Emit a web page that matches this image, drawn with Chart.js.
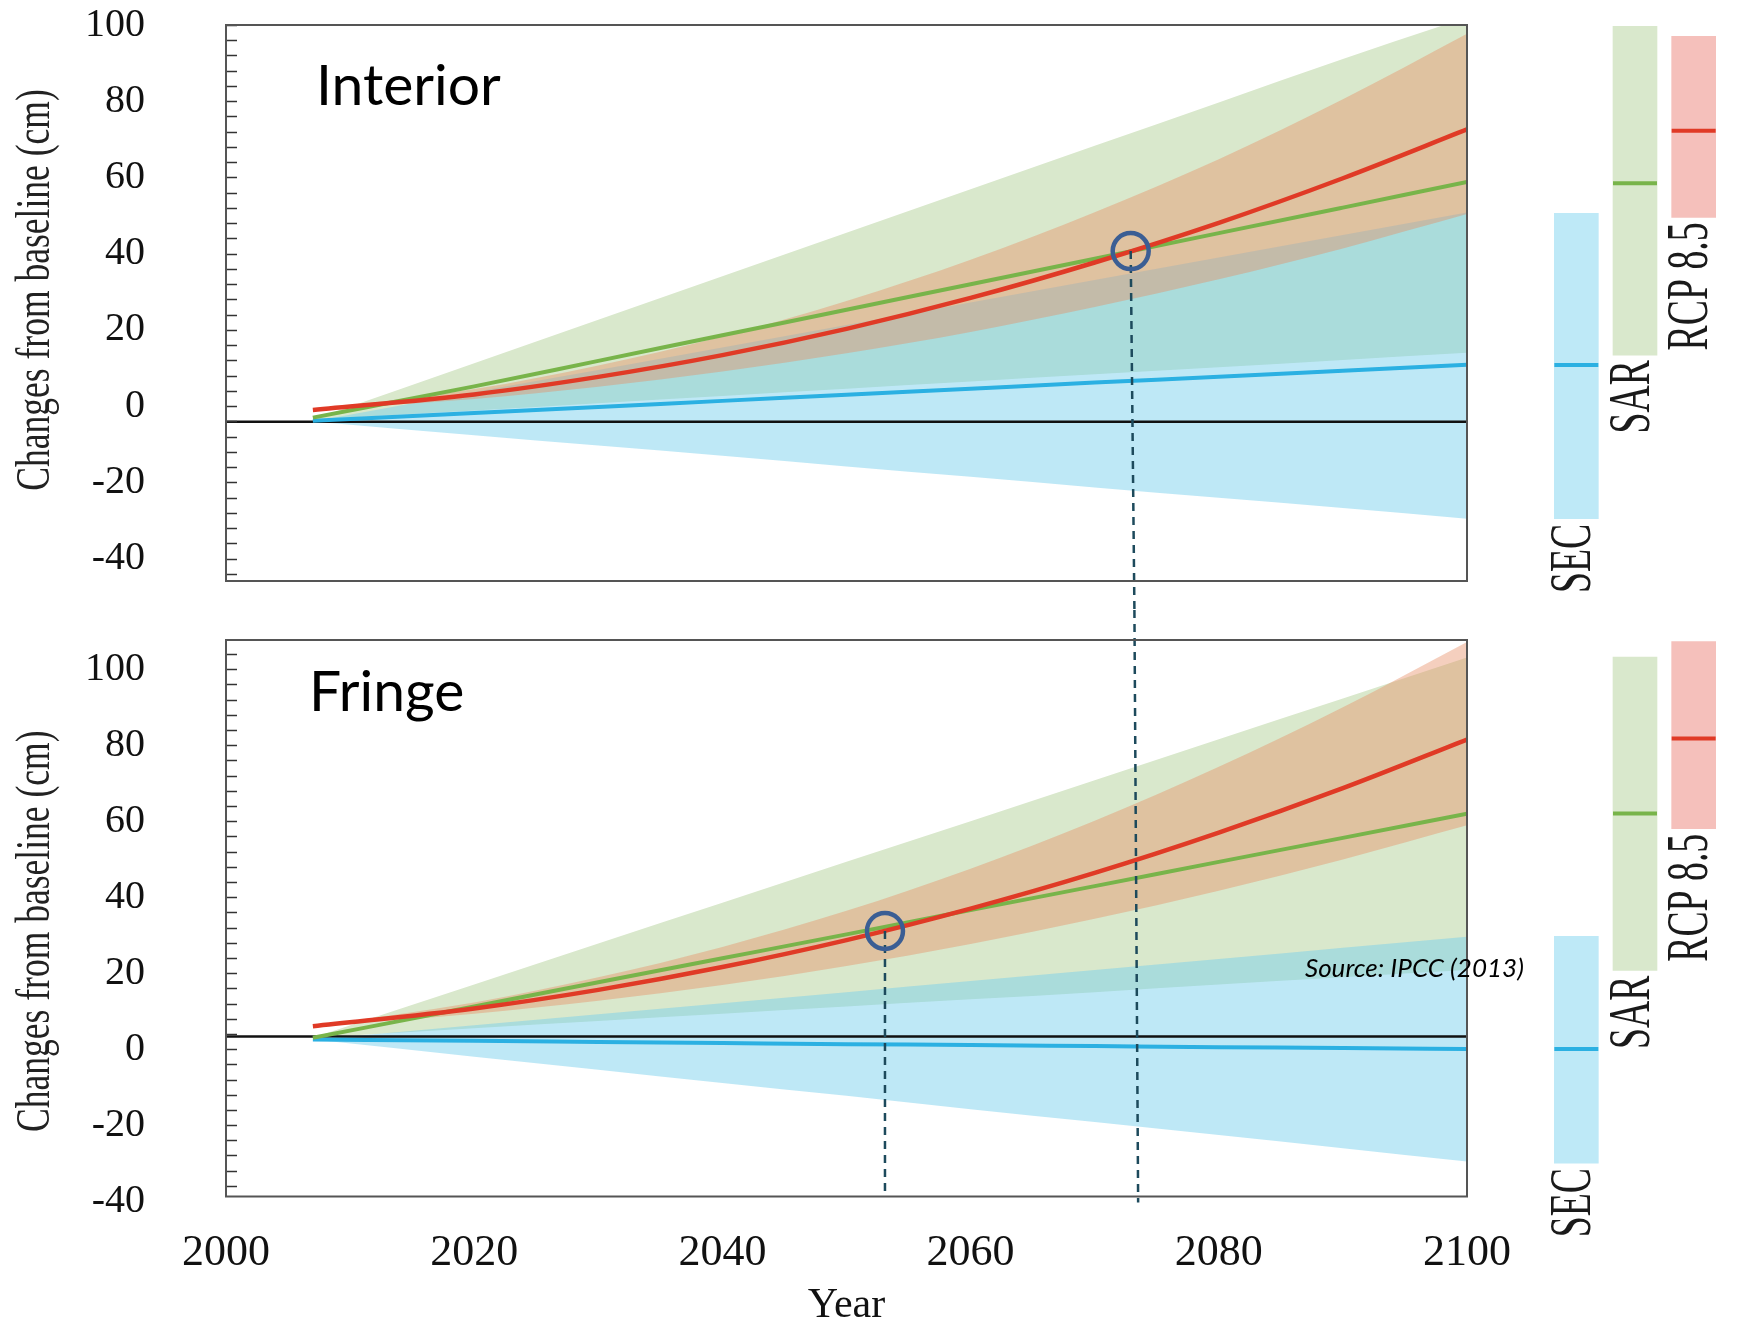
<!DOCTYPE html>
<html><head><meta charset="utf-8">
<script src="https://cdn.jsdelivr.net/npm/chart.js@4.4.1/dist/chart.umd.min.js"></script>
<style>
html,body{margin:0;padding:0;background:#fff;overflow:hidden;}
#wrap{position:relative;width:1749px;height:1326px;background:#fff;}
canvas{position:absolute;}
</style></head><body>
<div id="wrap">
<canvas id="topChart" style="left:0;top:0" width="1749" height="610"></canvas>
<canvas id="botChart" style="left:0;top:610px" width="1749" height="716"></canvas>
<canvas id="topBars" style="left:1521px;top:0" width="228" height="610"></canvas>
<canvas id="botBars" style="left:1521px;top:610px" width="228" height="716"></canvas>
</div>
<script>
// ---------------- DATA ----------------
const years = [2007, 2020, 2030, 2040, 2050, 2060, 2070, 2080, 2090, 2100];
const xTicks = [2000, 2020, 2040, 2060, 2080, 2100];

// Interior panel
const intRedMid    = [-1.0, 3.1, 7.7, 13.4, 20.3, 28.4, 37.7, 48.1, 59.8, 72.6];
const intRedHigh   = [-1.0, 4.5, 10.7, 18.3, 27.6, 38.4, 50.9, 64.8, 80.5, 97.7];
const intRedLow    = [-1.0, 1.9, 5.1, 9.1, 13.9, 19.5, 26.0, 33.3, 41.4, 50.4];
const intGreenMid  = [-3.0, 5.2, 11.9, 18.6, 25.3, 32.0, 38.7, 45.4, 52.1, 58.8];
const intGreenHigh = [-3.5, 11.3, 22.7, 34.1, 45.5, 56.9, 68.3, 79.7, 91.1, 102.0];
const intGreenLow  = [-3.5, -1.1, 0.8, 2.7, 4.6, 6.5, 8.4, 10.2, 12.1, 14.0];
const intBlueMid   = [-3.8, -1.8, -0.2, 1.4, 3.0, 4.6, 6.2, 7.7, 9.3, 10.9];
const intBlueHigh  = [-4.0, 3.7, 9.5, 15.4, 21.3, 27.2, 33.1, 39.0, 44.9, 50.8];
const intBlueLow   = [-4.0, -7.6, -10.3, -13.0, -15.8, -18.5, -21.3, -24.0, -26.7, -29.5];
const intBaseline  = -4.1;
const intYRange    = [-45.85, 100];
const intExtraLabels = [];
const intMarker    = [{x: 2072.9, y: 40.7}];
const intGuide     = [{x: 2072.9, y: 40.7}, {x: 2073.2, y: -53.4}];

// Fringe panel
const frRedMid    = [6.0, 10.7, 15.6, 21.6, 28.7, 37.0, 46.4, 57.0, 68.7, 81.5];
const frRedHigh   = [6.0, 12.3, 18.9, 26.9, 36.4, 47.5, 60.1, 74.3, 90.0, 107.2];
const frRedLow    = [6.0, 9.3, 12.7, 16.9, 21.9, 27.7, 34.3, 41.7, 49.9, 58.9];
const frGreenMid  = [3.0, 11.2, 17.6, 23.9, 30.2, 36.6, 42.9, 49.3, 55.6, 62.0];
const frGreenHigh = [3.0, 17.0, 27.8, 38.5, 49.3, 60.0, 70.8, 81.6, 92.3, 103.1];
const frGreenLow  = [3.0, 5.5, 7.4, 9.3, 11.2, 13.1, 15.0, 17.0, 18.9, 20.8];
const frBlueMid   = [2.5, 2.2, 1.9, 1.6, 1.3, 1.1, 0.8, 0.5, 0.3, 0.0];
const frBlueHigh  = [2.5, 6.3, 9.2, 12.1, 15.0, 17.9, 20.8, 23.7, 26.7, 29.6];
const frBlueLow   = [2.5, -2.0, -5.4, -8.9, -12.3, -15.8, -19.2, -22.6, -26.1, -29.6];
const frBaseline  = 3.3;
const frYRange    = [-38.8, 107.7];
const frExtraLabels = [-40];
const frMarker    = [{x: 2053.1, y: 31.1}];
const frGuideA    = [{x: 2073.2, y: 115.6}, {x: 2073.5, y: -40.4}];
const frGuideB    = [{x: 2053.1, y: 31.1}, {x: 2053.1, y: -38.8}];

// Side range bars (value at 2100)
const sideCats   = ['SEC', 'SAR', 'RCP 8.5'];
const intSideLow  = [-29.5, 13.5, 49.7];
const intSideHigh = [50.8, 100.5, 97.3];
const intSideMid  = [10.9, 58.7, 72.5];
const frSideLow   = [-30.0, 20.7, 58.0];
const frSideHigh  = [29.7, 103.2, 107.3];
const frSideMid   = [0.0, 62.0, 81.8];

// ---------------- STYLE ----------------
const C = {
  greenBand: '#d9e8cc', blueBand: 'rgba(117,206,236,0.47)', redBand: 'rgba(230,140,100,0.42)',
  red: '#e03a26', green: '#78b44a', blue: '#2bb0e2', base: '#111111',
  circle: '#3b5e94', guide: '#1d4a5c',
  sideFill: ['#bee9f7', '#d9e8cc', '#f5c0bb'], sideMid: ['#2bb0e2', '#78b44a', '#e03a26']
};
const serif = '"Liberation Serif", "DejaVu Serif", serif';

const pts = arr => years.map((yr, i) => ({x: yr, y: arr[i]}));
const flat = v => [{x: 2000, y: v}, {x: 2100, y: v}];

function bandLow(arr, order) {
  return {type: 'line', data: pts(arr), borderWidth: 0, pointRadius: 0, fill: false, order, cubicInterpolationMode: 'monotone'};
}
function bandHigh(arr, color, order) {
  return {type: 'line', data: pts(arr), borderWidth: 0, pointRadius: 0, fill: '-1', backgroundColor: color, order, cubicInterpolationMode: 'monotone'};
}
function medLine(arr, color, order, w) {
  return {type: 'line', data: pts(arr), borderColor: color, borderWidth: w, pointRadius: 0, fill: false, order, cubicInterpolationMode: 'monotone'};
}
function guide(data) {
  return {type: 'line', data, borderColor: C.guide, borderWidth: 2.5, borderDash: [8, 6], pointRadius: 0, fill: false, clip: false, order: 2};
}
function marker(data) {
  return {type: 'line', data, showLine: false, pointRadius: 18, pointBorderWidth: 4.5, pointBorderColor: C.circle, pointBackgroundColor: 'rgba(0,0,0,0)', order: 1, clip: false};
}

const panelDecor = {
  id: 'panelDecor',
  afterDraw(chart, args, o) {
    const {ctx, chartArea: a} = chart;
    const y = chart.scales.y;
    ctx.save();
    ctx.strokeStyle = '#333'; ctx.lineWidth = 1.5;
    y.ticks.forEach(t => {
      if (t.value < y.min || t.value > y.max) return;
      const py = Math.round(y.getPixelForValue(t.value)) + 0.5;
      ctx.beginPath(); ctx.moveTo(a.left, py); ctx.lineTo(a.left + 11, py); ctx.stroke();
    });
    ctx.strokeStyle = '#555'; ctx.lineWidth = 2;
    ctx.strokeRect(a.left, a.top, a.right - a.left, a.bottom - a.top);
    ctx.fillStyle = '#000'; ctx.font = '57px Lato'; ctx.textAlign = 'left'; ctx.textBaseline = 'alphabetic';
    ctx.fillText(o.title, a.left + o.tx, a.top + o.ty);
    if (o.source) {
      ctx.font = 'italic 26px Lato';
      ctx.fillText(o.source, a.right - 162, a.top + 337);
    }
    ctx.restore();
    ctx.save();
    ctx.fillStyle = '#222';
    ctx.translate(36, (a.top + a.bottom) / 2 + o.titleShift);
    ctx.rotate(-Math.PI / 2);
    ctx.scale(0.74, 1);
    ctx.font = '48px ' + serif; ctx.textAlign = 'center'; ctx.textBaseline = 'middle';
    ctx.fillText('Changes from baseline (cm)', 0, 0);
    ctx.restore();
  }
};

function panel(id, d, range, extraLabels, showX, pad, decor) {
  const datasets = [
    bandLow(d.gl, 100), bandHigh(d.gh, C.greenBand, 99),
    bandLow(d.bl, 90), bandHigh(d.bh, C.blueBand, 89),
    bandLow(d.rl, 80), bandHigh(d.rh, C.redBand, 79),
    {type: 'line', data: flat(d.base), borderColor: C.base, borderWidth: 2.5, pointRadius: 0, fill: false, order: 50},
    medLine(d.bm, C.blue, 10, 4),
    medLine(d.gm, C.green, 9, 4),
    medLine(d.rm, C.red, 8, 4.5),
    ...d.guides.map(guide),
    marker(d.marker)
  ];
  return new Chart(document.getElementById(id), {
    type: 'line',
    data: {datasets},
    options: {
      responsive: false, animation: false, events: [],
      layout: {padding: pad},
      plugins: {legend: {display: false}, tooltip: {enabled: false}, panelDecor: decor},
      scales: {
        x: {
          type: 'linear', min: 2000, max: 2100, display: showX,
          afterBuildTicks: s => { s.ticks = xTicks.map(v => ({value: v})); },
          ticks: {font: {family: serif, size: 44}, color: '#111', padding: 31, maxRotation: 0, callback: v => String(v)},
          grid: {display: false, drawTicks: false}, border: {display: false},
          title: {display: true, text: 'Year', font: {family: serif, size: 42}, color: '#111', padding: {top: 0, bottom: -5}},
          afterFit: s => { if (showX) { s.height = 129.5; } s.paddingLeft = 0; s.paddingRight = 0; }
        },
        y: {
          type: 'linear', min: range[0], max: range[1],
          afterBuildTicks: s => { extraLabels.forEach(v => s.ticks.push({value: v})); },
          ticks: {stepSize: 4, autoSkip: false, includeBounds: false, padding: 81, font: {family: serif, size: 40}, color: '#111',
            callback: v => (Math.abs(Math.round(v)) % 20 === 0 ? String(Math.round(v)) : '')},
          grid: {display: false, drawTicks: false}, border: {display: false},
          afterFit: s => { s.width = 226; s.paddingTop = 0; s.paddingBottom = 0; }
        }
      }
    },
    plugins: [panelDecor]
  });
}

panel('topChart', {
  gl: intGreenLow, gh: intGreenHigh, bl: intBlueLow, bh: intBlueHigh, rl: intRedLow, rh: intRedHigh,
  gm: intGreenMid, bm: intBlueMid, rm: intRedMid, base: intBaseline, marker: intMarker, guides: [intGuide]
}, intYRange, intExtraLabels, false, {left: 0, right: 282, top: 25, bottom: 29}, {title: 'Interior', tx: 90, ty: 80, titleShift: -13});

panel('botChart', {
  gl: frGreenLow, gh: frGreenHigh, bl: frBlueLow, bh: frBlueHigh, rl: frRedLow, rh: frRedHigh,
  gm: frGreenMid, bm: frBlueMid, rm: frRedMid, base: frBaseline, marker: frMarker, guides: [frGuideA, frGuideB]
}, frYRange, frExtraLabels, true, {left: 0, right: 282, top: 30, bottom: 0}, {title: 'Fringe', tx: 83, ty: 70.6, titleShift: 13, source: 'Source: IPCC (2013)'});

const sideLabels = {
  id: 'sideLabels',
  afterDraw(chart, args, o) {
    const {ctx} = chart;
    const x = chart.scales.x, y = chart.scales.y;
    ctx.save();
    ctx.fillStyle = '#1a1a1a';
    ctx.font = '59px ' + serif;
    ctx.textAlign = 'right'; ctx.textBaseline = 'middle';
    sideCats.forEach((lab, i) => {
      ctx.save();
      ctx.translate(x.getPixelForValue(i) - 2, y.getPixelForValue(o.low[i]) + 5);
      ctx.rotate(-Math.PI / 2);
      ctx.scale(0.64, 1);
      ctx.fillText(lab, 0, 0);
      ctx.restore();
    });
    ctx.restore();
  }
};

function side(id, low, high, mid, range, pad) {
  return new Chart(document.getElementById(id), {
    data: {
      labels: sideCats,
      datasets: [
        {type: 'line', data: mid, showLine: false, pointStyle: 'line', pointRadius: 22, pointBorderWidth: 4, pointBorderColor: C.sideMid, order: 1, clip: false},
        {type: 'bar', data: low.map((l, i) => [l, high[i]]), backgroundColor: C.sideFill, barThickness: 44, grouped: false, order: 2}
      ]
    },
    options: {
      responsive: false, animation: false, events: [],
      layout: {padding: pad},
      plugins: {legend: {display: false}, tooltip: {enabled: false}, sideLabels: {low}},
      scales: {x: {type: 'category', display: false}, y: {display: false, min: range[0], max: range[1]}}
    },
    plugins: [sideLabels]
  });
}
side('topBars', intSideLow, intSideHigh, intSideMid, intYRange, {left: 0, right: 0, top: 25, bottom: 29});
side('botBars', frSideLow, frSideHigh, frSideMid, frYRange, {left: 0, right: 0, top: 30, bottom: 129.5});
</script>
</body></html>
